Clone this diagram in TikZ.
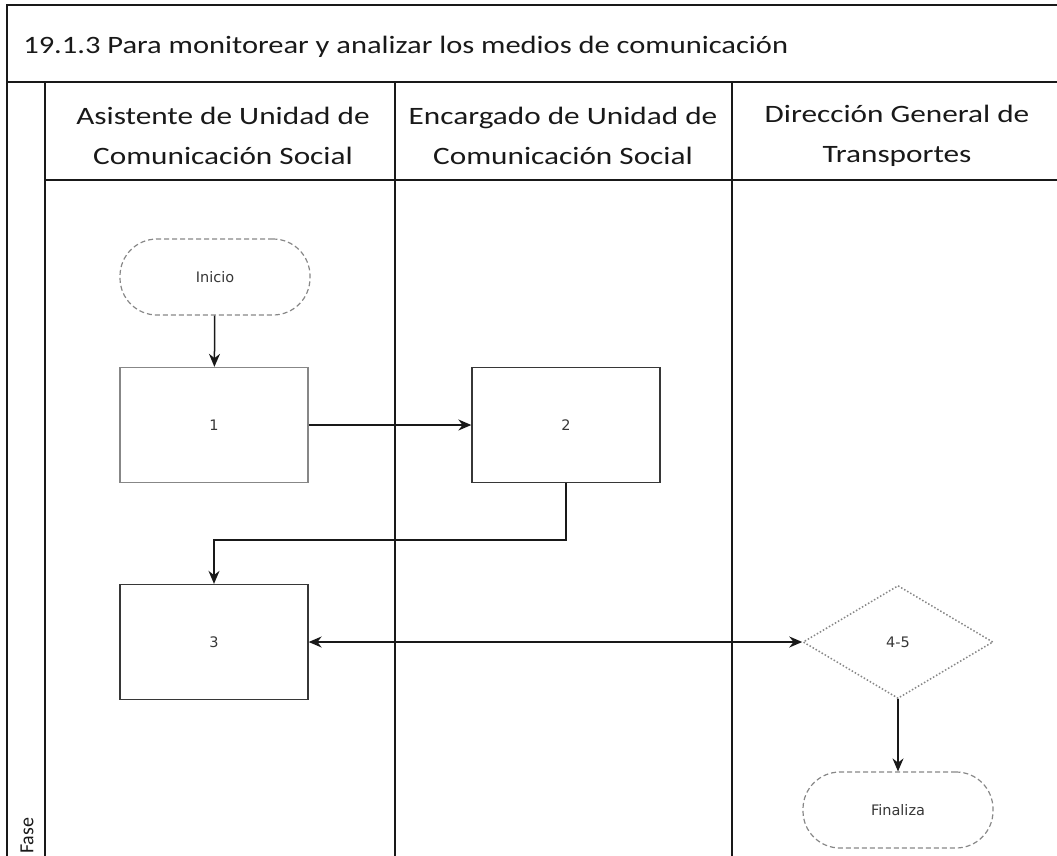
\documentclass[tikz,border=0pt]{standalone}
\usepackage{fontspec}
\setmainfont{Carlito}
\newfontfamily\boxfont{DejaVu Sans}
\usepackage{tikz}
\usepackage{xcolor}
\usetikzlibrary{arrows.meta,positioning,shapes.geometric,calc}
\definecolor{frameink}{RGB}{25,25,25}
\definecolor{boxink}{RGB}{55,55,55}
\definecolor{softink}{RGB}{135,135,135}

\begin{document}
\begin{tikzpicture}[x=1pt,y=-1pt,>={Stealth[length=13pt,width=11pt]},
  every node/.style={font=\boxfont\fontsize{14.5}{18}\selectfont,text=boxink},
  procbox/.style={draw=boxink,line width=1.3pt,minimum width=188pt,minimum height=115pt,inner sep=0pt},
  termbox/.style={draw=softink,dash pattern=on 5pt off 3pt,line width=1.2pt,rounded corners=37pt,minimum width=190pt,minimum height=76pt,inner sep=0pt},
  decbox/.style={diamond,draw=softink,dotted,line width=1.5pt,minimum width=190pt,minimum height=113pt,inner sep=0pt},
  lanehead/.style={font=\fontsize{25}{40}\selectfont,align=center,text=frameink,xscale=1.25},
  flow/.style={line width=1.5pt,draw=frameink}]
\useasboundingbox (0,0) rectangle (1057,856);
% frame and lanes
\draw[line width=1.6pt,frameink] (7,856) -- (7,5) -- (1057,5);
\draw[line width=1.6pt,frameink] (7,82) -- (1057,82);
\draw[line width=1.6pt,frameink] (45,180) -- (1057,180);
\foreach \x in {45,395,732}
  \draw[line width=1.4pt,frameink] (\x,82) -- (\x,856);
\node[anchor=base west,font=\fontsize{25}{28}\selectfont,text=frameink,xscale=1.22] (title) at (19,54)
  {19.1.3 Para monitorear y analizar los medios de comunicación};
\node[lanehead] (laneA) at (223,136) {Asistente de Unidad de\\Comunicación Social};
\node[lanehead] (laneB) at (563,136) {Encargado de Unidad de\\Comunicación Social};
\node[lanehead] (laneC) at (897,136) {Dirección General de\\Transportes};
\node[rotate=90,anchor=west,font=\fontsize{20}{22}\selectfont,text=frameink,inner sep=1pt] (fase) at (27,855) {Fase};
% flow
\node[termbox] (inicio) at (215,277) {Inicio};
\node[procbox,draw=softink] (b1) at (214,425) {1};
\node[procbox] (b2) at (566,425) {2};
\node[procbox] (b3) at (214,642) {3};
\node[decbox] (d45) at (898,642) {4-5};
\node[termbox] (fin) at (898,810) {Finaliza};
\draw[flow,->] (inicio) -- (b1);
\draw[flow,->] (b1) -- (b2);
\draw[flow,->] (b2.south) -- ++(0,57) -| (b3.north);
\draw[flow,<->] (b3) -- (d45);
\draw[flow,->] (d45) -- (fin);
\end{tikzpicture}
\end{document}
